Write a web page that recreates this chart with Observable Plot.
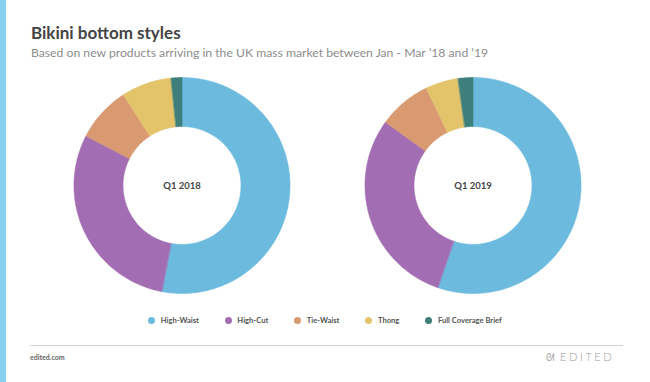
<!DOCTYPE html>
<html>
<head>
<meta charset="utf-8">
<script src="https://cdn.jsdelivr.net/npm/d3@7"></script>
<script src="https://cdn.jsdelivr.net/npm/@observablehq/plot@0.6"></script>
<style>
  html, body { margin: 0; padding: 0; background: #fff; }
  #page { position: relative; width: 650px; height: 382px; overflow: hidden; font-family: Lato, "Open Sans", sans-serif; }
  #stripe { position: absolute; left: 0; top: 0; width: 6px; height: 382px; background: #86d0f0; }
  #title { position: absolute; left: 31px; top: 24px; font-size: 17px; font-weight: 700; color: #444; white-space: nowrap; line-height: 17px; }
  #subtitle { position: absolute; left: 31px; top: 46px; font-size: 12.2px; font-weight: 400; color: #8c8c8c; white-space: nowrap; line-height: 13px; }
  #chart { position: absolute; left: 0; top: 70px; }
  #legend { position: absolute; left: 0; width: 650px; top: 315px; display: flex; justify-content: center; align-items: center; font-size: 7.6px; font-weight: 700; color: #555; }
  #legend .item { display: flex; align-items: center; margin: 0 13px; }
  #legend .dot { width: 7px; height: 7px; border-radius: 50%; margin-right: 5.5px; }
  #rule { position: absolute; left: 30px; top: 345px; width: 593px; height: 1px; background: #d2d2d2; }
  #site { position: absolute; left: 30px; top: 353px; font-size: 7px; color: #666; font-weight: 700; }
  #brand { position: absolute; left: 560px; top: 350px; font-size: 11px; color: #9a9a9a; letter-spacing: 2.6px; font-weight: 300; }
  #bear { position: absolute; left: 546px; top: 351px; font-size: 10px; color: #aaa; }
</style>
</head>
<body>
<div id="page">
  <div id="stripe"></div>
  <div id="title">Bikini bottom styles</div>
  <div id="subtitle">Based on new products arriving in the UK mass market between Jan - Mar ’18 and ’19</div>
  <div id="chart"></div>
  <div id="legend"></div>
  <div id="rule"></div>
  <div id="site">edited.com</div>
  <div id="bear">ᘛ</div>
  <div id="brand">EDITED</div>
</div>
<script>
const categories = ["High-Waist", "High-Cut", "Tie-Waist", "Thong", "Full Coverage Brief"];
const periods = ["Q1 2018", "Q1 2019"];
const share2018 = [53.0, 29.6, 8.3, 7.5, 1.6];
const share2019 = [55.3, 29.7, 7.9, 4.9, 2.2];
const colors = ["#6cbbdf", "#a26db2", "#d99a72", "#e3c46b", "#3e7f7c"];

const innerRatio = 0.546;
const pie = d3.pie().sort(null).value(d => d);

function arcPoints(period, shares) {
  const pts = [];
  pie(shares).forEach((s, i) => {
    const key = period + "|" + categories[i];
    const n = Math.max(2, Math.ceil((s.endAngle - s.startAngle) / (Math.PI / 180)));
    for (let k = 0; k <= n; k++) {
      const a = s.startAngle + (s.endAngle - s.startAngle) * k / n;
      pts.push({period, category: categories[i], key, x: Math.sin(a), y: Math.cos(a)});
    }
    for (let k = n; k >= 0; k--) {
      const a = s.startAngle + (s.endAngle - s.startAngle) * k / n;
      pts.push({period, category: categories[i], key, x: innerRatio * Math.sin(a), y: innerRatio * Math.cos(a)});
    }
  });
  return pts;
}

const points = [...arcPoints(periods[0], share2018), ...arcPoints(periods[1], share2019)];

const chart = Plot.plot({
  width: 650,
  height: 230,
  marginLeft: 35.5,
  marginRight: 32.5,
  marginTop: 0,
  marginBottom: 0,
  style: {fontFamily: "Lato, sans-serif", background: "transparent"},
  fx: {domain: periods, padding: 0, axis: null},
  x: {domain: [-1.347, 1.347], axis: null},
  y: {domain: [-1.065, 1.065], axis: null},
  color: {domain: categories, range: colors},
  marks: [
    Plot.line(points, {fx: "period", x: "x", y: "y", z: "key", fill: "category", stroke: "category", strokeWidth: 0.6, curve: "linear-closed"}),
    Plot.text(periods, {fx: d => d, text: d => d, frameAnchor: "middle", fontSize: 9.5, fontWeight: 700, fill: "#444"})
  ]
});
document.getElementById("chart").appendChild(chart);

const legend = document.getElementById("legend");
categories.forEach((c, i) => {
  const item = document.createElement("div");
  item.className = "item";
  const dot = document.createElement("span");
  dot.className = "dot";
  dot.style.background = chart.scale("color").apply(c);
  const label = document.createElement("span");
  label.textContent = c;
  item.appendChild(dot);
  item.appendChild(label);
  legend.appendChild(item);
});
</script>
</body>
</html>
